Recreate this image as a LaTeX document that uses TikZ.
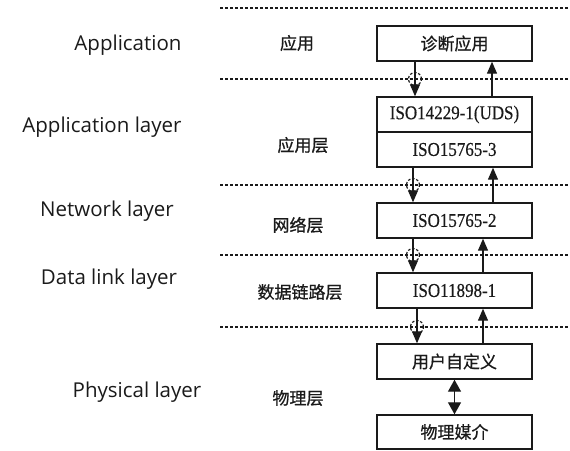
\documentclass[tikz,border=0pt]{standalone}
\usepackage{fontspec}
\usepackage{graphicx}
\setmainfont{Liberation Serif}[FakeBold=0.4]
\newfontfamily\cjkfont{Noto Sans CJK SC}[FakeBold=0.8]
\newfontfamily\labfont{Open Sans}
\usetikzlibrary{arrows.meta}
\definecolor{ink}{HTML}{1A1A1A}
\begin{document}
\begin{tikzpicture}[x=1pt,y=-1pt,
  box/.style={draw=ink, line width=1.4pt, minimum width=155pt, minimum height=35pt, inner sep=0pt, fill=white},
  sepline/.style={draw=ink, line width=1.9pt, dash pattern=on 3.2pt off 1.8pt},
  arr/.style={draw=ink, line width=1.3pt, -{Triangle[width=10pt,length=12pt]}},
  darr/.style={draw=ink, line width=1.3pt, {Triangle[width=13pt,length=12pt]}-{Triangle[width=13pt,length=12pt]}},
  hop/.style={circle, draw=ink, line width=1.2pt, dash pattern=on 2.5pt off 1.8pt, minimum size=13pt, inner sep=0pt},
  en/.style={font=\labfont\fontsize{20.5}{24}\selectfont, anchor=base, text=ink, inner sep=0pt},
  zh/.style={font=\cjkfont\fontsize{17}{20}\selectfont, text=ink, inner sep=0pt},
  iso/.style={font=\fontsize{17}{20}\selectfont, text=ink}
]
\useasboundingbox (0,0) rectangle (570,450);

% separator lines
\foreach \i/\y in {1/8,2/79,3/185,4/255,5/327}{
  \coordinate (s\i a) at (220,\y);
  \coordinate (s\i b) at (570,\y);
}
\foreach \i in {1,...,5}{ \draw[sepline] (s\i a) -- (s\i b); }

% left english labels
\node[en] (e1) at (128,50) {Application};
\node[en] (e2) at (102,132) {Application layer};
\node[en] (e3) at (107,216) {Network layer};
\node[en] (e4) at (109,284) {Data link layer};
\node[en] (e5) at (137,397) {Physical layer};

% chinese labels
\node[zh] (c1) at (297,43) {应用};
\node[zh] (c2) at (303,145) {应用层};
\node[zh] (c3) at (298,225) {网络层};
\node[zh] (c4) at (300,292) {数据链路层};
\node[zh] (c5) at (298,398) {物理层};

% boxes
\node[box, zh] (b1) at (454.5,43.5) {诊断应用};
\node[box, iso] (b2) at (454.5,114.5) {\scalebox{1}[1.15]{ISO14229-1(UDS)}};
\node[box, iso] (b3) at (454.5,149.5) {\scalebox{1}[1.15]{ISO15765-3}};
\node[box, iso] (b4) at (454.5,220.5) {\scalebox{1}[1.15]{ISO15765-2}};
\node[box, iso] (b5) at (454.5,290.5) {\scalebox{1}[1.15]{ISO11898-1}};
\node[box, zh] (b6) at (454.5,361.5) {用户自定义};
\node[box, zh, minimum height=34pt] (b7) at (454.5,432) {物理媒介};

% arrow columns
\coordinate (d1) at (415,0); \coordinate (u1) at (492,0);
\coordinate (d2) at (413,0); \coordinate (u2) at (493,0);
\coordinate (d3) at (413,0); \coordinate (u3) at (483,0);
\coordinate (d4) at (417,0); \coordinate (u4) at (483,0);
\coordinate (p) at (454.5,0);

% hops
\node[hop] (h1) at (d1 |- s2a) {};
\node[hop] (h2) at (d2 |- s3a) {};
\node[hop] (h3) at (d3 |- s4a) {};
\node[hop] (h4) at (d4 |- s5a) {};

% down arrows
\draw[arr] (b1.south -| d1) -- (b2.north -| d1);
\draw[arr] (b3.south -| d2) -- (b4.north -| d2);
\draw[arr] (b4.south -| d3) -- (b5.north -| d3);
\draw[arr] (b5.south -| d4) -- (b6.north -| d4);
% up arrows
\draw[arr] (b2.north -| u1) -- (b1.south -| u1);
\draw[arr] (b4.north -| u2) -- (b3.south -| u2);
\draw[arr] (b5.north -| u3) -- (b4.south -| u3);
\draw[arr] (b6.north -| u4) -- (b5.south -| u4);
% physical
\draw[darr] (b6.south -| p) -- (b7.north -| p);
\end{tikzpicture}
\end{document}
